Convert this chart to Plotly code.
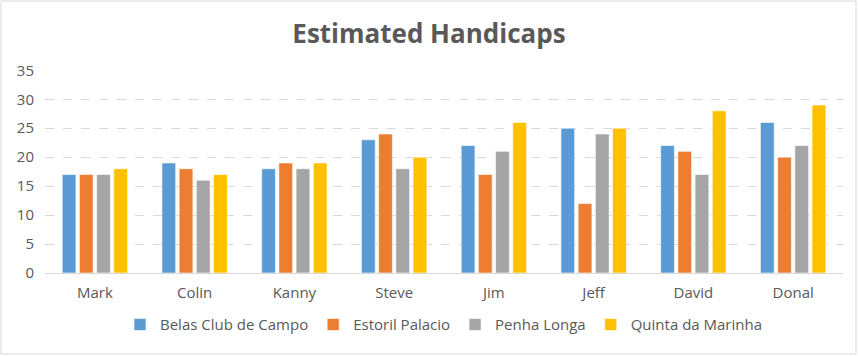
import plotly.graph_objects as go

players = ["Mark", "Colin", "Kanny", "Steve", "Jim", "Jeff", "David", "Donal"]
belas = [17, 19, 18, 23, 22, 25, 22, 26]
estoril = [17, 18, 19, 24, 17, 12, 21, 20]
penha = [17, 16, 18, 18, 21, 24, 17, 22]
quinta = [18, 17, 19, 20, 26, 25, 28, 29]

series = [
    ("Belas Club de Campo", belas, "#5B9BD5"),
    ("Estoril Palacio", estoril, "#ED7D31"),
    ("Penha Longa", penha, "#A5A5A5"),
    ("Quinta da Marinha", quinta, "#FFC000"),
]

fig = go.Figure()
for name, vals, col in series:
    fig.add_trace(go.Bar(
        x=players, y=vals, name=name,
        marker=dict(color=col, line=dict(color="rgba(255,255,255,0.6)", width=1)),
    ))

font_fam = "Open Sans, Calibri, sans-serif"
fig.update_layout(
    width=858, height=356,
    margin=dict(l=45, r=15, t=70, b=83),
    paper_bgcolor="white", plot_bgcolor="white",
    barmode="group", bargap=0.31, bargroupgap=0.2,
    title=dict(text="<b>Estimated Handicaps</b>", x=0.5, xanchor="center",
               y=1 - 34/356, yanchor="middle",
               font=dict(family=font_fam, size=26, color="#595959")),
    font=dict(family=font_fam, size=14, color="#595959"),
    xaxis=dict(showgrid=False, showline=True, linecolor="#D9D9D9", linewidth=1,
               ticks="", tickfont=dict(size=15, color="#595959"), ticklabelstandoff=6),
    yaxis=dict(range=[0, 35.05], tickvals=[0, 5, 10, 15, 20, 25, 30, 35], showgrid=True,
               gridcolor="#D9D9D9", griddash="dash", gridwidth=1, zeroline=False,
               showline=False, tickfont=dict(size=15, color="#595959"), ticklabelstandoff=10),
    legend=dict(orientation="h", x=0.5, xanchor="center", y=-0.255, yanchor="middle",
                font=dict(size=15, color="#595959"), itemwidth=30,
                traceorder="normal"),
    showlegend=True,
)
fig.add_shape(type="rect", xref="paper", yref="paper",
              x0=(1 - 45) / 798, x1=(856 - 45) / 798,
              y0=(273 - 354) / 203, y1=(273 - 1) / 203,
              line=dict(color="#D9D9D9", width=1), fillcolor="rgba(0,0,0,0)", layer="below")
fig.write_html("out.html", config={"displayModeBar": False})

with open("out.html", "r", encoding="utf-8") as f:
    html = f.read()
html = html.replace("<body>", '<body style="margin:0;padding:0;overflow:hidden">', 1)
with open("out.html", "w", encoding="utf-8") as f:
    f.write(html)
